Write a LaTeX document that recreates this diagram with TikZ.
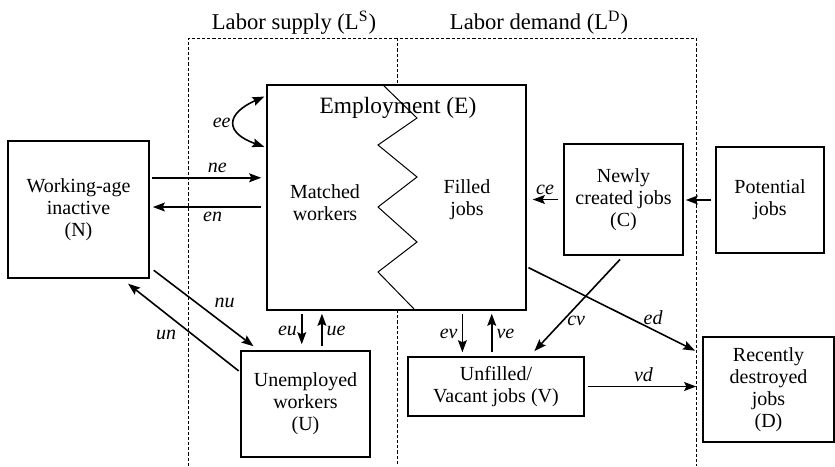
\documentclass[tikz,border=0pt]{standalone}
\usepackage{fontspec}
\setmainfont{Liberation Serif}
\usetikzlibrary{arrows.meta,positioning}

\begin{document}
\begin{tikzpicture}[x=0.5pt,y=-0.5pt,
    ftip/.tip={Stealth[length=6pt,width=4.4pt,inset=1pt]},
    box/.style={draw, line width=0.75pt, align=center, inner sep=0pt,
        font=\fontsize{10}{11}\selectfont},
    flow/.style={line width=0.8pt, -ftip},
    rate/.style={font=\fontsize{10}{11}\selectfont\itshape, inner sep=2pt},
    region/.style={dash pattern=on 1.6pt off 1pt, line width=0.5pt},
    head/.style={font=\fontsize{11.3}{13}\selectfont, anchor=base}]
    \useasboundingbox (0,0) rectangle (835,466);

    % supply and demand sides
    \node[head] (hs) at (294,29) {Labor supply (L\textsuperscript{S})};
    \node[head] (hd) at (539,29) {Labor demand (L\textsuperscript{D})};
    \draw[region] (188,466) -- (188,38) -- (696,38) -- (696,466);
    \draw[region] (397,38) -- (397,85);
    \draw[region] (397,310) -- (397,466);

    % stocks
    \node[box, minimum width=70.5pt, minimum height=68.5pt] (N) at (78.5,209.5)
        {Working-age\\inactive\\(N)};
    \node[box, minimum width=129.5pt, minimum height=112.5pt] (E) at (396.5,197.5) {};
    \node[box, minimum width=64.5pt, minimum height=53pt] (U) at (305.5,404)
        {Unemployed\\workers\\(U)};
    \node[box, minimum width=88pt, minimum height=29.5pt] (V) at (496,386.5)
        {Unfilled/\\Vacant jobs (V)};
    \node[box, minimum width=59.5pt, minimum height=55.5pt] (C) at (623.5,199.5)
        {Newly\\created jobs\\(C)};
    \node[box, minimum width=54pt, minimum height=53pt] (P) at (770,200)
        {Potential\\jobs};
    \node[box, minimum width=65.5pt, minimum height=52.5pt] (D) at (768.5,389.5)
        {Recently\\destroyed\\jobs\\(D)};

    % inside employment
    \node[font=\fontsize{11.7}{13}\selectfont, anchor=base] (Et) at (398,113) {Employment (E)};
    \node[align=center, font=\fontsize{10}{11}\selectfont] (Em) at (325,203) {Matched\\workers};
    \node[align=center, font=\fontsize{10}{11}\selectfont] (Ef) at (467,200) {Filled\\jobs};
    \draw[line width=0.5pt] (383,85) -- (417,118) -- (378,145) -- (417,177)
        -- (378,207) -- (417,242) -- (378,272) -- (415,310);

    % flows
    \draw[flow, ftip-ftip, shorten <=1pt, shorten >=1pt]
        (E.142.75) .. controls (225,114) and (225,133) .. (E.159.1)
        node[rate, pos=0.5, left] {ee};
    \draw[flow, shorten <=1pt, shorten >=2.5pt] (N.24.75) -- (N.24.75 -| E.west)
        node[rate, pos=0.58, above] {ne};
    \draw[flow, shorten <=2.5pt, shorten >=1.5pt] (N.2.84 -| E.west) -- (N.2.84)
        node[rate, pos=0.46, below] {en};
    \draw[flow, shorten <=2.5pt, shorten >=3pt] (C.west) -- (C.west -| E.east)
        node[rate, midway, above] {ce};
    \draw[flow, shorten <=2pt, shorten >=1pt] (P.west) -- (P.west -| C.east);

    \draw[flow, shorten <=2.5pt, shorten >=3.3pt] (N.-39.2) -- (U.131.3)
        node[rate, pos=0.55, above right] {nu};
    \draw[flow, shorten <=1pt, shorten >=4pt] (U.154.3) -- (N.-58.8)
        node[rate, pos=0.5, below left] {un};

    \draw[flow, shorten <=1.5pt, shorten >=3pt] (U.94 |- E.south) -- (U.94)
        node[rate, midway, left] {eu};
    \draw[flow, shorten <=2pt, shorten >=1.5pt] (U.73) -- (U.73 |- E.south)
        node[rate, midway, right] {ue};
    \draw[flow, shorten <=1.5pt, shorten >=2pt] (V.138.6 |- E.south) -- (V.138.6)
        node[rate, midway, left] {ev};
    \draw[flow, shorten <=2pt, shorten >=1.5pt] (V.98.7) -- (V.98.7 |- E.south)
        node[rate, midway, right] {ve};

    \draw[flow, shorten <=2.5pt, shorten >=3.5pt] (C.south) -- (V.42.7)
        node[rate, pos=0.65, right] {cv};
    \draw[flow, shorten <=1pt, shorten >=4pt] (E.-28.2) -- (D.152.5)
        node[rate, pos=0.72, above] {ed};
    \draw[flow, shorten <=1.5pt, shorten >=3pt] (V.east) -- (V.east -| D.west)
        node[rate, midway, above] {vd};
\end{tikzpicture}
\end{document}
